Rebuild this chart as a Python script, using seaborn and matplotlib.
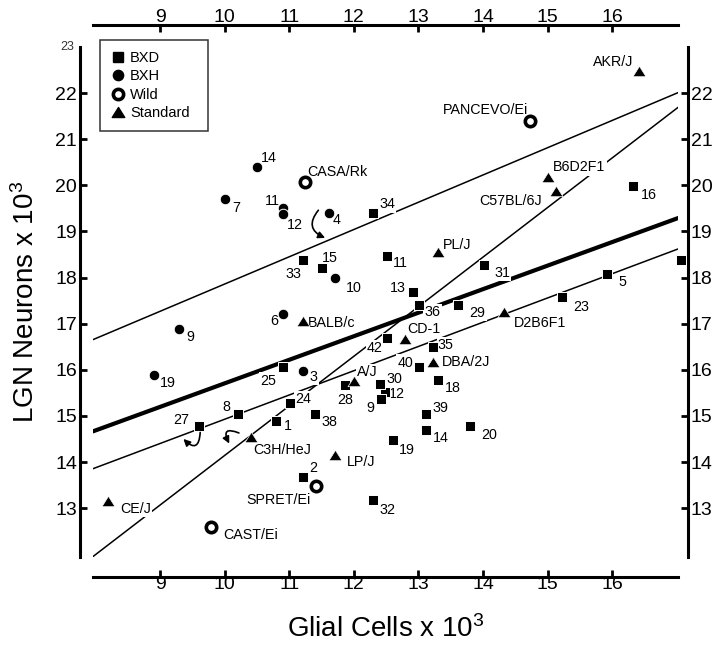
import matplotlib
matplotlib.use("Agg")
import matplotlib.pyplot as plt
import seaborn as sns
from matplotlib.lines import Line2D
from matplotlib.path import Path

# ---------------- data ----------------
bxd_ids = ["12", "1", "2", "5", "8", "9", "11", "13", "14", "15", "16", "18", "19", "20",
           "22", "23", "24", "25", "27", "28", "29", "30", "31", "32", "33", "34",
           "35", "36", "38", "39", "40", "42"]
bxd_glia = [12.48, 10.80, 11.21, 15.92, 10.20, 12.42, 12.52, 12.91, 13.12, 11.50, 16.32,
            13.31, 12.61, 13.80, 17.06, 15.22, 11.01, 10.90, 9.60, 11.87, 13.62, 12.41,
            14.02, 12.30, 11.21, 12.30, 13.22, 13.01, 11.40, 13.12, 13.01, 12.51]
bxd_neurons = [15.52, 14.89, 13.68, 18.08, 15.05, 15.36, 18.47, 17.69, 14.69, 18.20, 19.98,
               15.78, 14.48, 14.78, 18.39, 17.58, 15.27, 16.07, 14.78, 15.68, 17.40, 15.69,
               18.27, 13.17, 18.39, 19.39, 16.49, 17.40, 15.05, 15.05, 16.07, 16.68]

bxh_ids = ["3", "4", "6", "7", "9", "10", "11", "12", "14", "19"]
bxh_glia = [11.21, 11.61, 10.90, 10.01, 9.29, 11.71, 10.90, 10.90, 10.50, 8.90]
bxh_neurons = [15.98, 19.41, 17.20, 19.70, 16.88, 18.00, 19.50, 19.37, 20.40, 15.89]

wild_ids = ["CASA/Rk", "PANCEVO/Ei", "SPRET/Ei", "CAST/Ei"]
wild_glia = [11.245, 14.73, 11.42, 9.79]
wild_neurons = [20.08, 21.39, 13.48, 12.58]

std_ids = ["AKR/J", "B6D2F1", "C57BL/6J", "PL/J", "D2B6F1", "CD-1", "DBA/2J", "A/J",
           "BALB/c", "C3H/HeJ", "LP/J", "CE/J"]
std_glia = [16.42, 15.01, 15.13, 13.31, 14.32, 12.79, 13.22, 12.00, 11.21, 10.40, 11.71, 8.20]
std_neurons = [22.48, 20.17, 19.88, 18.55, 17.26, 16.66, 16.16, 15.75, 17.06, 14.55, 14.16, 13.15]

# regression lines (values at the two ends of the glia range)
fit_x = [7.96, 17.02]
fit_all = [14.665, 19.29]
fit_upper = [16.654, 22.01]
fit_lower = [13.855, 18.62]
fit_steep = [11.95, 21.69]

x_ticks = [9, 10, 11, 12, 13, 14, 15, 16]
y_ticks = [13, 14, 15, 16, 17, 18, 19, 20, 21, 22]

# ---------------- label placement (pixels: dx right, dy down, ha) ----------------
bxd_off = {"1": (11.5, 5.5), "2": (10, -9), "5": (15, 8), "8": (-11, -7), "9": (-10.7, 8.5),
           "11": (13, 7), "12": (12.5, 2), "13": (-15, -4), "14": (15, 8), "15": (8, -10),
           "16": (16, 8.5), "18": (14, 8), "19": (14, 10), "20": (19.5, 9), "22": (-13, 13),
           "23": (19, 10), "24": (13, -4), "25": (-15, 14), "27": (-17.5, -6), "28": (0, 15),
           "29": (19, 8), "30": (14.5, -5), "31": (18, 8), "32": (14, 10), "33": (-9, 14),
           "34": (14, -9), "35": (13, -2), "36": (13.5, 7), "38": (14.5, 8), "39": (14, -6),
           "40": (-14, -4), "42": (-12, 10)}
bxh_off = {"3": (11, 6), "4": (8, 7), "6": (-9, 7), "7": (11, 9), "9": (11, 8),
           "10": (19, 10), "11": (-10, -7), "12": (12, 11), "14": (12, -9), "19": (14, 8)}
name_off = {"AKR/J": (-6, -9, "right"), "B6D2F1": (5, -10, "left"),
            "C57BL/6J": (-13.7, 10, "right"), "PL/J": (4.7, -7.6, "left"),
            "D2B6F1": (10, 11, "left"), "CD-1": (2, -10.6, "left"),
            "DBA/2J": (9.5, 0, "left"), "A/J": (3, -9, "left"),
            "BALB/c": (5.5, 2, "left"), "C3H/HeJ": (2.5, 13, "left"),
            "LP/J": (12, 7.7, "left"), "CE/J": (11.7, 7.7, "left"),
            "CASA/Rk": (2, -9.7, "left"), "PANCEVO/Ei": (-2, -11, "right"),
            "SPRET/Ei": (-6, 14, "right"), "CAST/Ei": (12, 8, "left")}

# ---------------- style ----------------
sns.set_theme(style="white")
plt.rcParams["font.family"] = ["Liberation Sans", "DejaVu Sans"]
plt.rcParams["mathtext.fontset"] = "custom"
plt.rcParams["mathtext.rm"] = "Liberation Sans"
for k in ["text.color", "axes.labelcolor", "xtick.color", "ytick.color", "axes.edgecolor"]:
    plt.rcParams[k] = "black"

PT = 0.72  # points per pixel at dpi 100
tri = Path([(0, 0.8), (-1, -0.8), (1, -0.8), (0, 0.8)],
           [Path.MOVETO, Path.LINETO, Path.LINETO, Path.CLOSEPOLY])

fig = plt.figure(figsize=(7.2, 6.45), dpi=100)
ax = fig.add_axes([93 / 720, 88 / 645, 585 / 720, 510 / 645])

# regression lines
for ys, lw in [(fit_upper, 1.1), (fit_lower, 1.1), (fit_steep, 1.1), (fit_all, 3.0)]:
    sns.lineplot(x=fit_x, y=ys, color="black", linewidth=lw, ax=ax, zorder=2)

# markers
sns.scatterplot(x=bxd_glia, y=bxd_neurons, marker="s", s=62, color="black",
                edgecolor="white", linewidth=0.7, ax=ax, zorder=4, clip_on=False)
sns.scatterplot(x=bxh_glia, y=bxh_neurons, marker="o", s=58, color="black",
                edgecolor="white", linewidth=0.7, ax=ax, zorder=4)
sns.scatterplot(x=std_glia, y=std_neurons, marker=tri, s=88, color="black",
                edgecolor="white", linewidth=0.5, ax=ax, zorder=4)
sns.scatterplot(x=wild_glia, y=wild_neurons, marker="o", s=56, facecolor="white",
                edgecolor="black", linewidth=2.6, ax=ax, zorder=4)

lab_kw = dict(textcoords="offset points", va="center", fontsize=10.3, zorder=3,
              bbox=dict(boxstyle="square,pad=0.08", fc="white", ec="none"))
for ids, xs, ys, off in [(bxd_ids, bxd_glia, bxd_neurons, bxd_off),
                         (bxh_ids, bxh_glia, bxh_neurons, bxh_off)]:
    for i, x, y in zip(ids, xs, ys):
        dx, dy = off[i]
        ax.annotate(i, (x, y), xytext=(dx * PT, -dy * PT), ha="center", **lab_kw)
for ids, xs, ys in [(std_ids, std_glia, std_neurons), (wild_ids, wild_glia, wild_neurons)]:
    for i, x, y in zip(ids, xs, ys):
        dx, dy, ha = name_off[i]
        ax.annotate(i, (x, y), xytext=(dx * PT, -dy * PT), ha=ha, **lab_kw)

# curved arrows
arr = dict(arrowstyle="-|>", color="black", lw=1.2, mutation_scale=10, shrinkA=0, shrinkB=0)
ax.annotate("", xy=(11.555, 18.86), xytext=(11.45, 19.46),
            arrowprops=dict(connectionstyle="arc3,rad=0.65", **arr), zorder=5)
ax.annotate("", xy=(9.36, 14.50), xytext=(9.62, 14.64),
            arrowprops=dict(connectionstyle="arc3,rad=-1.1", **arr), zorder=5)
ax.annotate("", xy=(10.07, 14.40), xytext=(10.22, 14.63),
            arrowprops=dict(connectionstyle="arc3,rad=1.3", **arr), zorder=5)

# axes
ax.set_xlim(7.96, 17.02)
ax.set_ylim(11.94, 23.0)
ax.set_xticks(x_ticks)
ax.set_yticks(y_ticks)
for side, off in [("left", 9.4), ("right", 7.2), ("top", 15.8), ("bottom", 14.4)]:
    ax.spines[side].set_visible(True)
    ax.spines[side].set_position(("outward", off))
    ax.spines[side].set_linewidth(2.2)
    ax.spines[side].set_color("black")
ax.tick_params(axis="both", direction="in", length=5, width=2, labelsize=14,
               colors="black")
ax.tick_params(axis="x", top=True, labeltop=True, bottom=True, labelbottom=True, pad=-0.5)
ax.tick_params(axis="y", left=True, right=True, labelleft=True, labelright=True, pad=2)
ax.text(-0.0325, 23.0, "23", transform=ax.get_yaxis_transform(), ha="right",
        va="center", fontsize=9, color="#333333")

ax.set_xlabel("Glial Cells x 10$\\mathregular{^3}$", fontsize=20, labelpad=16)
ax.set_ylabel("LGN Neurons x 10$\\mathregular{^3}$", fontsize=20, labelpad=11)

handles = [Line2D([], [], ls="", marker="s", ms=7.4, color="black"),
           Line2D([], [], ls="", marker="o", ms=7.4, color="black"),
           Line2D([], [], ls="", marker="o", ms=7.4, mfc="white", mec="black", mew=2.6),
           Line2D([], [], ls="", marker=tri, ms=9.0, color="black")]
leg = ax.legend(handles, ["BXD", "BXH", "Wild", "Standard"], loc="upper left",
                bbox_to_anchor=(0.012, 0.5, 0.1846, 0.5137), mode="expand",
                borderaxespad=0, frameon=True, fancybox=False, fontsize=10.5,
                handlelength=1.0, handletextpad=0.3, labelspacing=0.3, borderpad=0.75)
leg.get_frame().set_edgecolor("black")
leg.get_frame().set_linewidth(1.1)
leg.set_zorder(6)

fig.savefig("out.png", dpi=100, facecolor="white")
